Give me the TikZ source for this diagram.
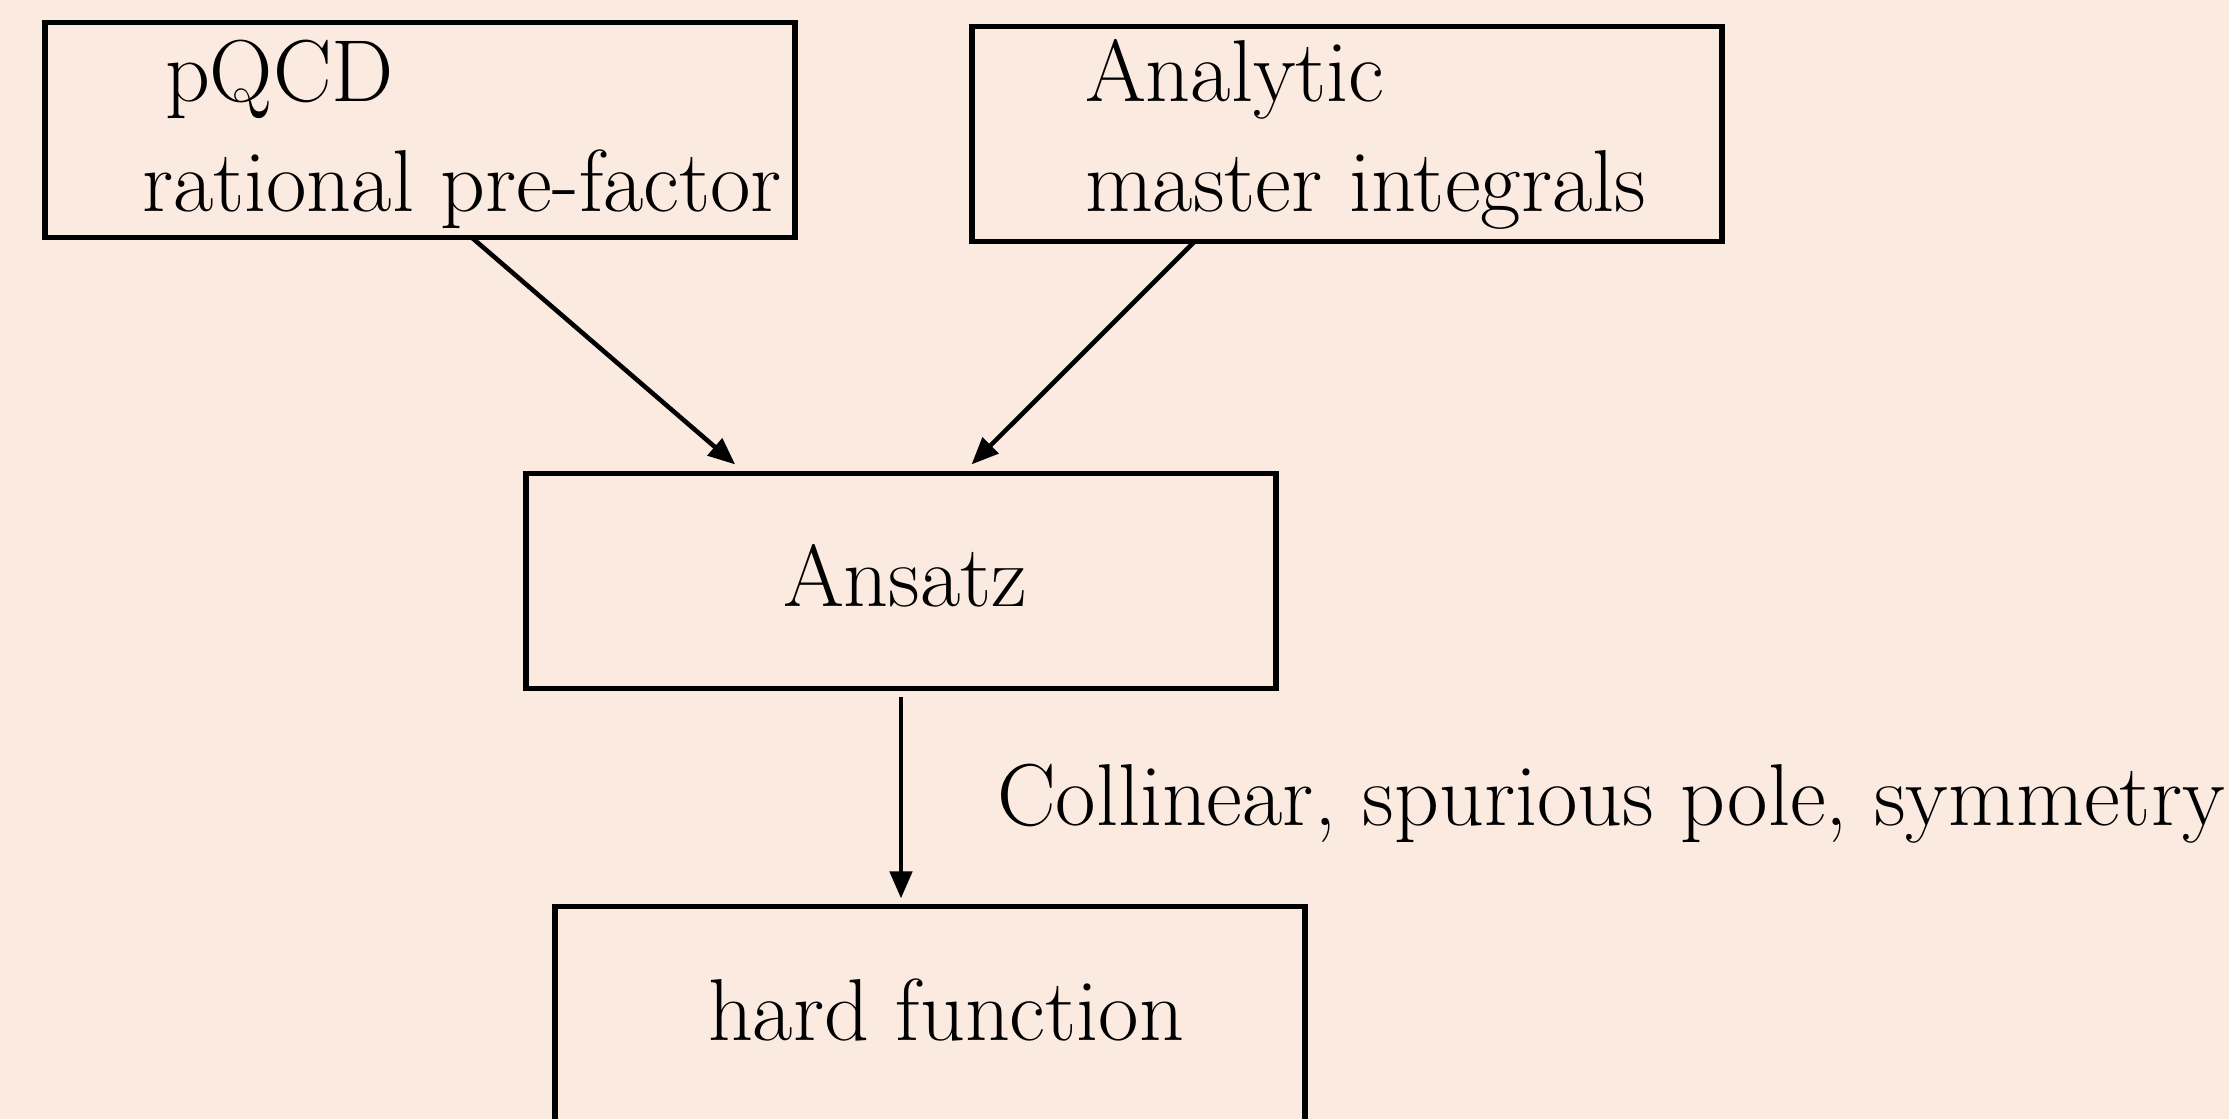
\documentclass[tikz,border=0pt]{standalone}
\usetikzlibrary{arrows.meta,calc}
\definecolor{bgpeach}{RGB}{251,234,224}
\begin{document}
\begin{tikzpicture}[x=0.01cm,y=-0.01cm,
  box/.style={draw=black,line width=1.6pt,rectangle,inner sep=0pt,outer sep=0pt,minimum width=7.5cm,minimum height=2.15cm},
  lbl/.style={anchor=base west,inner sep=0pt,outer sep=0pt,font=\fontsize{25}{30}\selectfont},
  arr/.style={line width=1.3pt,-{Triangle[length=0.27cm,width=0.22cm]}}]
\fill[bgpeach] (0,0) rectangle (2229,1119);
\useasboundingbox (0,0) rectangle (2229,1119);
\clip (0,0) rectangle (2229,1119);
\node[box] (pqcd) at (420,130) {};
\node[box] (analytic) at (1347,134) {};
\node[box] (ansatz) at (901,581) {};
\node[box] (hard) at (930,1014) {};
\node[lbl] (t1) at (165,102) {pQCD};
\node[lbl] (t2) at (142,212) {rational pre-factor};
\node[lbl] (t3) at (1085,102) {Analytic};
\node[lbl] (t4) at (1085,212) {master integrals};
\node[lbl] (t5) at (783,607) {Ansatz};
\node[lbl] (t6) at (708,1041) {hard function};
\node[lbl] (t7) at (997,826) {Collinear, spurious pole, symmetry};
\draw[arr] ($(pqcd.south west)!0.569!(pqcd.south east)$) -- ($(ansatz.north west)!0.279!(ansatz.north east)+(0,-9)$);
\draw[arr] ($(analytic.south west)!0.297!(analytic.south east)$) -- ($(ansatz.north west)!0.594!(ansatz.north east)+(0,-9)$);
\draw[arr] ($(ansatz.south)+(0,8)$) -- ($(ansatz.south |- hard.north)+(0,-8)$);
\end{tikzpicture}
\end{document}
